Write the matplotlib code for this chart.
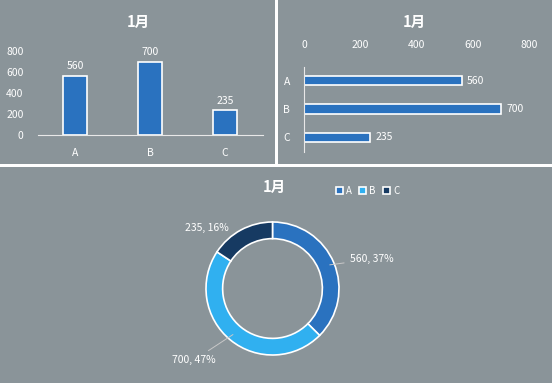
import matplotlib.pyplot as plt
from matplotlib.patches import Rectangle

plt.rcParams['font.family'] = ['Noto Sans CJK SC', 'DejaVu Sans']

# data
title = '1月'
cats = ['A', 'B', 'C']
vals = [560, 700, 235]
ticks = [0, 200, 400, 600, 800]
pie_colors = ['#2a72bf', '#30b0f0', '#163a62']
bar_color = '#2a72bf'
bg = '#8a9499'

W, H = 554, 385
fig = plt.figure(figsize=(W / 100, H / 100), dpi=100)
fig.patch.set_facecolor('white')

def px(x0, y0, x1, y1):
    # pixel box -> figure fraction [left, bottom, width, height]
    return [x0 / W, (H - y1) / H, (x1 - x0) / W, (y1 - y0) / H]

# panel backgrounds
for x0, y0, x1, y1 in [(0, 0, 275, 164), (278, 0, 552, 164), (0, 167, 552, 383)]:
    b = px(x0, y0, x1, y1)
    fig.patches.append(Rectangle((b[0], b[1]), b[2], b[3], transform=fig.transFigure,
                                 facecolor=bg, edgecolor='none', zorder=-5))

tfont = dict(color='white', fontsize=10.5, fontweight='bold')
lfont = dict(color='white', fontsize=7.5)

# vertical bar chart
fig.text(138 / W, 1 - 22 / H, title, ha='center', va='center', **tfont)
ax1 = fig.add_axes(px(37.5, 51, 262.5, 135))
ax1.patch.set_alpha(0)
pos = range(len(cats))
ax1.bar(pos, vals, width=0.31, color=bar_color, edgecolor='white', linewidth=1.2)
for i, v in zip(pos, vals):
    ax1.text(i, v + 45, str(v), ha='center', va='bottom', **lfont)
ax1.set_xlim(-0.5, 2.5)
ax1.set_ylim(0, 800)
ax1.set_yticks(ticks)
ax1.set_xticks(list(pos))
ax1.set_xticklabels(cats)
ax1.tick_params(length=0, colors='white', labelsize=7.5)
ax1.tick_params(axis='x', pad=9)
ax1.tick_params(axis='y', pad=10)
for s in ['top', 'right', 'left']:
    ax1.spines[s].set_visible(False)
ax1.spines['bottom'].set_color('#e8e8e8')

# horizontal bar chart
fig.text(414 / W, 1 - 22 / H, title, ha='center', va='center', **tfont)
ax2 = fig.add_axes(px(304, 66.5, 529, 151.5))
ax2.patch.set_alpha(0)
ax2.barh(list(pos), vals, height=0.33, color=bar_color, edgecolor='white', linewidth=1.2)
for i, v in zip(pos, vals):
    ax2.text(v + 20, i, str(v), ha='left', va='center', **lfont)
ax2.set_ylim(2.5, -0.5)
ax2.set_xlim(0, 800)
ax2.set_xticks(ticks)
ax2.set_yticks(list(pos))
ax2.set_yticklabels(cats)
ax2.xaxis.tick_top()
ax2.tick_params(length=0, colors='white', labelsize=7.5)
ax2.tick_params(axis='x', pad=12)
ax2.tick_params(axis='y', pad=10)
for s in ['top', 'right', 'bottom']:
    ax2.spines[s].set_visible(False)
ax2.spines['left'].set_color('#e8e8e8')

# donut
fig.text(274 / W, 1 - 187 / H, title, ha='center', va='center', **tfont)
ax3 = fig.add_axes(px(206, 222, 339, 355))
ax3.patch.set_alpha(0)
wedges, _ = ax3.pie(vals, colors=pie_colors, startangle=90, counterclock=False,
                    radius=1, wedgeprops=dict(width=0.25, edgecolor='white', linewidth=1.2))
ax3.set_xlim(-1, 1)
ax3.set_ylim(-1, 1)
ax3.set_aspect('auto')
total = sum(vals)
labels = ['%d, %d%%' % (v, round(v * 100 / total)) for v in vals]
ax3.annotate(labels[0], xy=(0.82, 0.35), xytext=(1.16, 0.44), ha='left', va='center',
             arrowprops=dict(arrowstyle='-', color='#c8c8c8', lw=0.7), **lfont)
ax3.annotate(labels[1], xy=(-0.56, -0.67), xytext=(-0.85, -1.075), ha='right', va='center',
             arrowprops=dict(arrowstyle='-', color='#c8c8c8', lw=0.7), **lfont)
ax3.text(-0.98, 0.91, labels[2], ha='center', va='center', **lfont)

leg = fig.legend(wedges, cats, loc='center left', bbox_to_anchor=(336 / W, 1 - 191 / H),
                 ncol=3, frameon=False, fontsize=7, labelcolor='white',
                 handlelength=0.7, handleheight=0.7, handletextpad=0.3,
                 columnspacing=0.8, borderaxespad=0, borderpad=0)

fig.savefig('out.png', dpi=100, facecolor='white')
